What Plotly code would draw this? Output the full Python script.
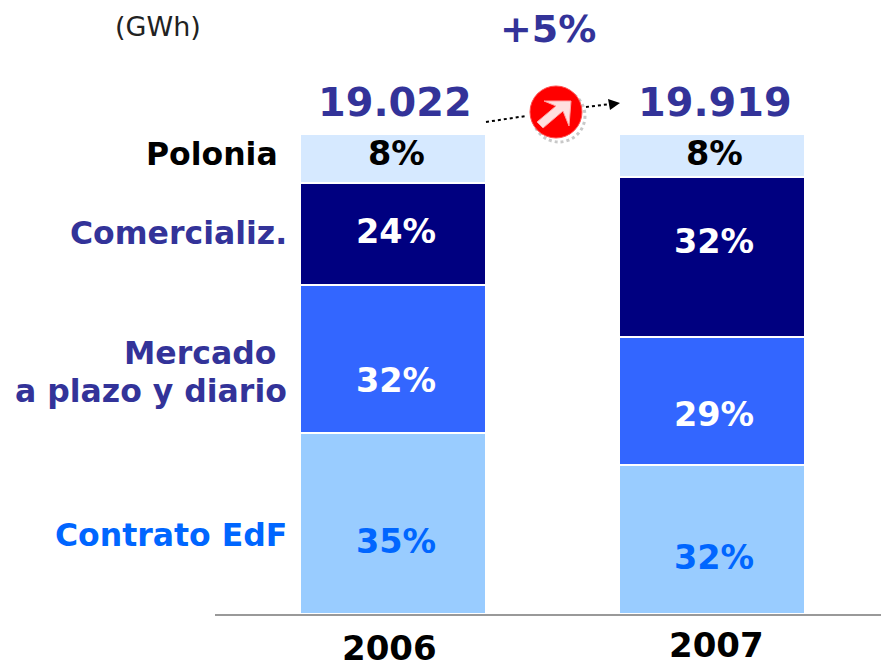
import plotly.graph_objects as go

W, H = 881, 663
BASE = 614
UNIT = 4.8

years = ["2006", "2007"]
segments = ["Contrato EdF", "Mercado a plazo y diario", "Comercializ.", "Polonia"]
heights_2006 = [37.7, 30.8, 21.3, 10.2]
heights_2007 = [31.0, 26.7, 33.3, 9.0]
labels_2006 = ["35%", "32%", "24%", "8%"]
labels_2007 = ["32%", "29%", "32%", "8%"]
totals = ["19.022", "19.919"]
growth = "+5%"
unit_label = "(GWh)"
colors = ["#99CCFF", "#3366FF", "#000080", "#D6E9FF"]
label_colors = ["#0066FF", "#FFFFFF", "#FFFFFF", "#000000"]
NAVY = "#333399"
FONT = "DejaVu Sans"

fig = go.Figure()
xpos = [393, 712]
series = list(zip(heights_2006, heights_2007))
for i, seg in enumerate(segments):
    fig.add_trace(go.Bar(
        x=xpos, y=list(series[i]), width=186, name=seg,
        marker=dict(color=colors[i], line=dict(color="white", width=1.5)),
        hoverinfo="skip", showlegend=False))

def py(p):
    return (H - p) / H

def txt(x, y, t, size, color, bold=True, anchor="center"):
    fig.add_annotation(
        xref="x", yref="paper", x=x, y=py(y), text=f"<b>{t}</b>" if bold else t,
        showarrow=False, xanchor=anchor, yanchor="middle",
        font=dict(family=FONT, size=size, color=color))

# percentage labels
ys = [[541, 381, 232, 154], [557, 414, 241, 154]]
for k, labs in enumerate([labels_2006, labels_2007]):
    for i, t in enumerate(labs):
        txt(xpos[k] + (3 if k == 0 else 2), ys[k][i], t, 33.5, label_colors[i])

# segment names
txt(280, 154, segments[3], 31.5, "#000000", anchor="right")
txt(289, 233, segments[2], 31.5, NAVY, anchor="right")
txt(278, 353, "Mercado", 31.5, NAVY, anchor="right")
txt(289, 391, "a plazo y diario", 31.5, NAVY, anchor="right")
txt(289, 535, segments[0], 31.5, "#0066FF", anchor="right")

# totals, years, header
txt(395, 102, totals[0], 39.8, NAVY)
txt(715, 102, totals[1], 39.8, NAVY)
txt(389, 648, years[0], 34, "#000000")
txt(716, 645, years[1], 34, "#000000")
txt(548, 29, growth, 38, NAVY)
txt(158, 27, unit_label, 27, "#222222", bold=False)

def shp(**k):
    fig.add_shape(xref="x", yref="paper", **k)

# axis line
shp(type="line", x0=215, x1=881, y0=py(615), y1=py(615), line=dict(color="#999999", width=2))
# dotted arrow
shp(type="line", x0=486, x1=526, y0=py(122), y1=py(116), line=dict(color="black", width=2, dash="dot"))
shp(type="line", x0=586, x1=610, y0=py(107), y1=py(104), line=dict(color="black", width=2, dash="dot"))
shp(type="path", path=f"M 608 {py(99)} L 620 {py(103)} L 610 {py(110)} Z", fillcolor="black", line=dict(width=0))
# icon shadow, disc, arrow
shp(type="circle", x0=533, x1=585, y0=py(142), y1=py(90), fillcolor="rgba(0,0,0,0)", line=dict(color="#C8C8C8", width=3, dash="dot"))
shp(type="circle", x0=530, x1=582, y0=py(138), y1=py(86), fillcolor="#FF0000", line=dict(color="#FF5050", width=1))
head = [(544, 101), (571, 101), (569, 126), (563, 111), (543, 128), (537, 122), (556, 106)]
path = "M " + " L ".join(f"{x} {py(y)}" for x, y in head) + " Z"
shp(type="path", path=path, fillcolor="#FFE0E0", line=dict(color="#FFA0A0", width=1))

fig.update_layout(
    barmode="stack", width=W, height=H, margin=dict(l=0, r=0, t=0, b=0),
    paper_bgcolor="white", plot_bgcolor="white", autosize=False,
    xaxis=dict(range=[0, W], visible=False, fixedrange=True),
    yaxis=dict(domain=[(H - BASE) / H, 1], range=[0, BASE / UNIT], visible=False, fixedrange=True),
)
fig.write_html("out.html", config={"displayModeBar": False},
               post_script="document.body.style.margin='0';document.body.style.overflow='hidden';")
